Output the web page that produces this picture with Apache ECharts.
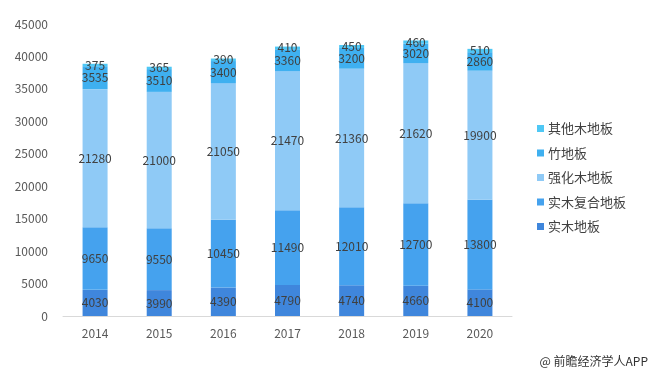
<!DOCTYPE html>
<html><head><meta charset="utf-8">
<script src="https://cdn.jsdelivr.net/npm/echarts@6/dist/echarts.min.js"></script>
<style>html,body{margin:0;padding:0;background:#fff}#c{width:654px;height:375px}</style>
</head><body><div id="c"></div>
<script>
const years = ['2014','2015','2016','2017','2018','2019','2020'];
const solidWood = [4030,3990,4390,4790,4740,4660,4100];
const engineered = [9650,9550,10450,11490,12010,12700,13800];
const laminate = [21280,21000,21050,21470,21360,21620,19900];
const bamboo = [3535,3510,3400,3360,3200,3020,2860];
const otherWood = [375,365,390,410,450,460,510];
const seriesNames = ['实木地板','实木复合地板','强化木地板','竹地板','其他木地板'];
const seriesData = [solidWood, engineered, laminate, bamboo, otherWood];
const colors = ['#3f86dc','#45a2ee','#8fcaf6','#3fb0f0','#4fc8f5'];
const FONT = '"Microsoft YaHei","Noto Sans CJK SC","DejaVu Sans",sans-serif';

const chart = echarts.init(document.getElementById('c'), null, {renderer:'canvas'});
chart.setOption({
  animation:false,
  textStyle:{fontFamily:FONT},
  grid:{left:63, right:142, top:24, bottom:59, containLabel:false},
  legend:{
    orient:'vertical', left:532, top:117, itemGap:11.5,
    itemWidth:7, itemHeight:7, icon:'rect',
    data:['其他木地板','竹地板','强化木地板','实木复合地板','实木地板'],
    textStyle:{fontSize:13, color:'#404040', fontFamily:FONT, padding:[0,0,0,-1]}
  },
  xAxis:{
    type:'category', data:years,
    axisLine:{lineStyle:{color:'#d9d9d9'}},
    axisTick:{show:false},
    axisLabel:{fontSize:12, color:'#595959', margin:11}
  },
  yAxis:{
    type:'value', min:0, max:45000, interval:5000,
    splitLine:{show:false}, axisLine:{show:false}, axisTick:{show:false},
    axisLabel:{fontSize:12, color:'#595959', margin:15, formatter:v=>String(v)}
  },
  series: seriesNames.map((n,i)=>({
    name:n, type:'bar', stack:'total', barWidth:25,
    data:seriesData[i],
    itemStyle:{color:colors[i]},
    label:{show:true, position:'inside', fontSize:12, color:'#404040', fontFamily:FONT}
  })),
  graphic:[{type:'text', right:6, top:355, style:{text:'@ 前瞻经济学人APP', fontSize:12, fill:'#333', fontFamily:FONT}}]
});
</script></body></html>
